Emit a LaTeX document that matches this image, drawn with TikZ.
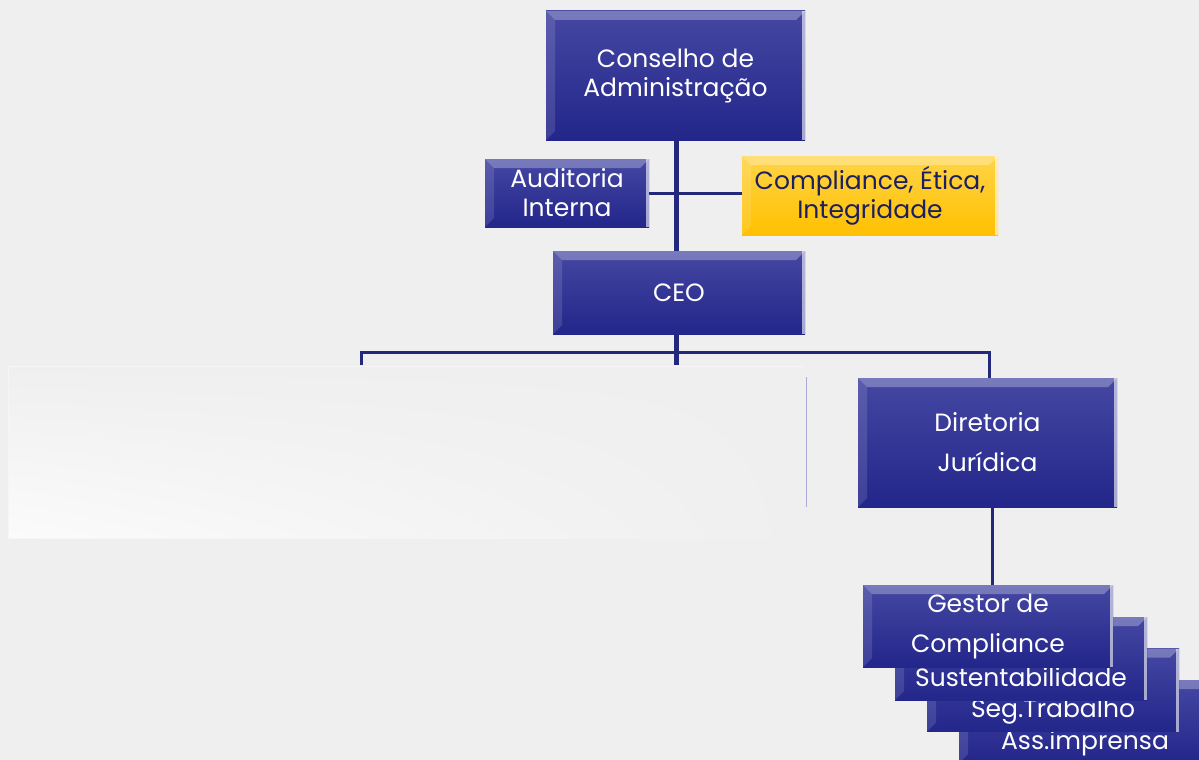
\documentclass[tikz,border=0pt]{standalone}
\usepackage{fontspec}
\setmainfont{Poppins}
\usepackage{xcolor}
\usetikzlibrary{
    positioning,
    calc,
    shadings
}
\definecolor{navy}{HTML}{23268A}
\definecolor{navytop}{HTML}{4547A2}
\definecolor{linecol}{HTML}{23287A}
\definecolor{gold}{HTML}{FFC000}
\definecolor{goldtop}{HTML}{FFD447}
\definecolor{ink}{HTML}{1C2060}
\definecolor{bg}{HTML}{EFEFEF}
\definecolor{ghost}{HTML}{A9A9D6}
\tikzset{
    % Bevelled box style
    orgbox/.style={
        rectangle,
        inner sep=0pt,
        align=center,
        font=\fontsize{25}{29}\selectfont,
        text=white,
        top color=#1top,
        bottom color=#1,
        draw=none,
        path picture={
            \fill[white, opacity=0.28]
                (path picture bounding box.north west) --
                (path picture bounding box.north east) --
                ([shift={(-9pt,-9pt)}]path picture bounding box.north east) --
                ([shift={(9pt,-9pt)}]path picture bounding box.north west) -- cycle;
            \fill[white, opacity=0.12]
                (path picture bounding box.north west) --
                ([shift={(9pt,-9pt)}]path picture bounding box.north west) --
                ([shift={(9pt,9pt)}]path picture bounding box.south west) --
                (path picture bounding box.south west) -- cycle;
            \fill[white, opacity=0.6]
                (path picture bounding box.north east) rectangle
                ([xshift=-3pt]path picture bounding box.south east);
        }
    },
    orgbox/.default=navy,
    % Wide line spacing
    airy/.style={
        font=\fontsize{25}{40}\selectfont
    },
    % Stacked box, text sits low
    stackbox/.style={
        orgbox,
        minimum width=252pt,
        minimum height=83pt,
        text height=59pt,
        text depth=4pt
    },
    % Connector styles
    link/.style={
        draw=linecol,
        line width=3pt
    },
    trunk/.style={
        link,
        line width=5pt
    }
}

\begin{document}
\begin{tikzpicture}[x=1pt, y=-1pt]

    % Background
    \fill[bg] (0,0) rectangle (1199,760);
    \useasboundingbox (0,0) rectangle (1199,760);
    \shade[upper left=bg, upper right=bg, lower left=white!75!bg, lower right=bg] (8,366) rectangle (805,538);
    \draw[white!40!bg, line width=1pt] (805,366) -- (8,366) -- (8,538) -- (500,538);
    \draw[ghost, line width=0.8pt] (806,377) -- (806,507);

    % Top level
    \node[orgbox, minimum width=259pt, minimum height=129pt] (conselho) at (675.5,75.5) {Conselho de\\Administração};
    \node[orgbox, minimum width=164pt, minimum height=68pt] (auditoria) at (567,193) {Auditoria\\Interna};
    \node[orgbox=gold, text=ink, minimum width=256pt, minimum height=79pt] (compliance) at (870,195.5) {Compliance, Ética,\\Integridade};
    \node[orgbox, minimum width=252pt, minimum height=83pt] (ceo) at (679,292.5) {CEO};

    % Connections, top
    \draw[link] (auditoria.east) -- (compliance.west |- auditoria.east);
    \draw[trunk] (conselho.south -| 676,0) -- (ceo.north -| 676,0);

    % CEO branch
    \coordinate (split) at (676,352);
    \coordinate (leftend) at (361,365);
    \draw[trunk] (ceo.south -| split) -- (676,365);
    \draw[link] (leftend) |- (split) -| (989,378);

    % Legal branch
    \node[orgbox, airy, minimum width=259pt, minimum height=129pt] (diretoria) at (987.5,442.5) {Diretoria\\Jurídica};
    \node[stackbox] (imprensa) at (1085,721.5) {Ass.imprensa};
    \node[stackbox] (seg) at (1053,690) {Seg.Trabalho};
    \node[stackbox] (sust) at (1021,658.5) {Sustentabilidade};
    \node[orgbox, airy, minimum width=250pt, minimum height=82pt] (gestor) at (988,626) {Gestor de\\Compliance};

    \draw[link] (diretoria.south -| 992,0) -- (gestor.north -| 992,0);

\end{tikzpicture}
\end{document}
